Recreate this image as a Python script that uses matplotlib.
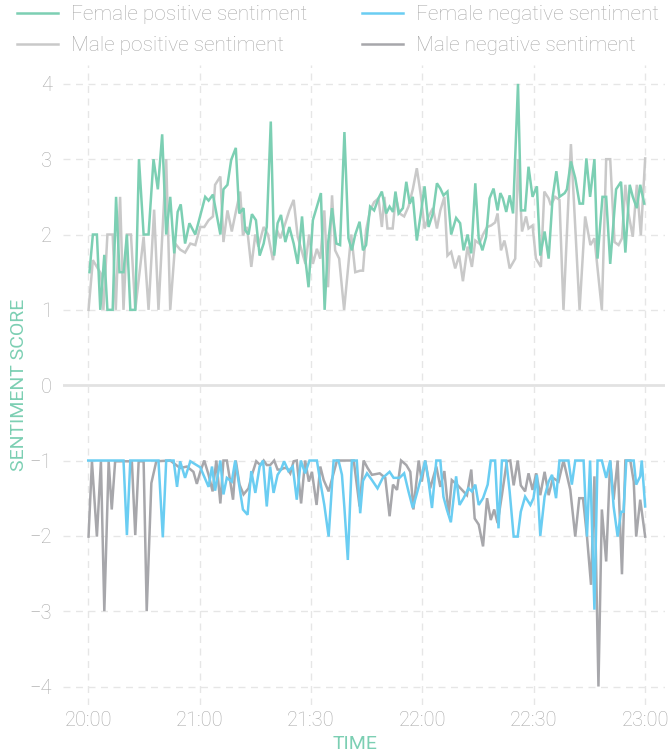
import matplotlib
matplotlib.use("Agg")
import matplotlib.pyplot as plt
from matplotlib import font_manager

# ---------------- data (minutes after 20:00, sentiment score) ----------------
female_pos = [(0.4,1.5),(1.5,2.0),(2.8,2.0),(3.9,1.0),(5.2,1.73),(6.2,1.0),(7.9,1.0),(9.0,2.5),(10.1,1.5),(11.4,1.5),
    (12.5,2.0),(13.6,1.0),(15.2,1.0),(16.4,3.0),(17.9,2.0),(19.5,2.0),(21.1,3.0),(22.5,2.6),(23.9,3.33),(25.2,2.0),
    (26.5,2.5),(27.8,1.75),(28.9,2.3),(29.9,2.4),(31.3,1.88),(32.7,2.15),(34.6,2.0),(36.2,2.25),(37.8,2.5),(38.9,2.45),
    (40.3,2.53),(42.7,2.0),(43.7,2.6),(45.0,2.66),(46.2,2.99),(47.7,3.15),(48.8,2.28),(50.2,2.35),(50.7,2.06),(51.8,2.0),
    (52.9,2.27),(54.2,2.19),(55.4,1.72),(56.7,1.88),(57.7,2.1),(59.0,3.5),(60.1,1.72),(61.2,2.15),(62.3,2.26),(63.7,1.9),
    (65.0,2.1),(66.4,1.88),(67.7,1.61),(69.1,2.24),(70.1,1.7),(71.2,1.3),(72.6,2.19),(73.9,2.37),(75.2,2.55),(76.4,1.0),
    (77.5,1.88),(78.8,2.35),(80.2,1.88),(81.4,1.86),(82.8,3.36),(84.1,1.95),(85.2,1.79),(86.3,2.0),(87.7,2.17),(88.8,1.79),
    (89.8,1.86),(91.1,2.37),(92.4,2.32),(93.8,2.48),(94.9,2.57),(96.3,2.28),(97.4,2.37),(98.5,2.3),(99.3,2.57),(100.3,2.28),
    (101.7,2.35),(102.8,2.7),(103.9,2.41),(104.9,2.5),(106.2,1.92),(107.5,2.28),(108.7,2.64),(110.0,2.1),(111.4,2.28),(112.7,2.68),
    (113.8,2.61),(114.8,2.52),(116.1,2.57),(117.3,2.0),(118.9,2.22),(120.2,2.15),(121.3,1.79),(122.6,2.0),(123.8,1.75),(125.1,2.68),
    (126.2,1.95),(127.4,1.79),(128.6,1.97),(129.7,2.48),(131.0,2.61),(132.3,2.32),(133.2,2.55),(134.0,2.48),(135.1,2.3),(136.2,2.52),
    (137.3,2.28),(138.9,4.0),(139.9,2.32),(141.2,2.32),(142.3,2.9),(143.6,2.5),(145.0,2.64),(146.1,1.72),(147.5,2.04),(148.8,1.68),
    (150.1,2.5),(151.3,2.84),(152.3,2.5),(154.0,2.55),(154.7,2.6),(156.0,2.97),(157.4,2.75),(158.8,2.41),(159.9,2.41),(161.0,3.01),
    (162.2,2.5),(163.6,3.0),(164.6,1.68),(166.2,2.5),(167.4,2.5),(168.7,1.61),(170.6,2.6),(172.2,2.7),(173.6,1.76),(175.0,2.66),
    (176.0,2.5),(177.3,2.35),(178.4,2.66),(179.7,2.41)]

male_pos = [(0.1,1.0),(1.5,1.66),(2.8,1.57),(4.1,1.48),(4.9,1.0),(6.2,2.0),(7.9,2.0),(8.9,1.0),(10.3,2.5),(11.4,1.0),
    (12.5,2.0),(13.8,2.0),(15.2,1.0),(17.9,1.97),(19.5,1.0),(21.3,2.33),(22.7,1.0),(25.2,3.0),(26.5,1.0),(28.1,1.88),
    (29.7,1.8),(31.3,1.76),(33.0,1.88),(34.6,1.86),(36.2,2.1),(37.5,2.1),(38.9,2.19),(40.3,2.24),(41.0,2.66),(42.7,2.77),
    (43.7,1.9),(45.0,2.32),(46.4,2.04),(47.8,2.32),(49.1,2.57),(50.0,1.99),(51.3,2.1),(52.7,1.57),(54.0,2.0),(55.0,1.84),
    (56.7,2.1),(58.1,2.0),(59.7,1.66),(61.0,2.06),(62.1,1.95),(63.7,2.15),(65.0,2.32),(66.4,2.46),(67.7,1.97),(69.1,1.77),
    (70.2,1.61),(71.4,2.0),(72.6,1.61),(73.9,1.81),(75.0,1.68),(76.3,2.32),(77.5,1.3),(78.8,2.52),(79.8,1.79),(81.1,1.68),
    (82.7,1.0),(85.0,2.0),(86.3,1.5),(87.9,1.52),(88.8,1.52),(89.8,2.06),(91.1,2.32),(92.4,2.43),(93.8,2.48),(94.9,2.1),
    (95.7,2.5),(96.7,2.08),(98.4,2.08),(99.4,2.5),(100.6,2.28),(102.1,2.24),(103.5,2.37),(104.9,2.6),(106.2,2.88),(107.5,2.52),
    (108.7,2.08),(110.0,2.24),(111.4,2.35),(112.7,2.08),(113.8,2.32),(115.1,2.5),(116.1,1.72),(117.3,1.77),(118.6,1.55),(119.9,1.72),
    (121.1,1.38),(122.6,1.84),(124.0,1.57),(125.1,1.92),(126.4,1.88),(127.6,2.0),(128.9,2.1),(130.2,2.12),(131.5,2.16),(132.3,2.28),
    (133.4,1.79),(134.5,1.92),(135.1,1.81),(136.2,1.55),(138.0,1.68),(138.9,3.0),(140.2,2.04),(141.5,2.24),(142.3,2.08),(143.6,2.12),
    (144.7,1.68),(146.3,1.57),(147.4,2.57),(148.8,2.48),(149.5,2.39),(150.9,2.5),(152.3,2.46),(153.6,1.0),(156.0,3.2),(158.8,1.0),
    (160.6,2.24),(162.3,1.86),(163.6,1.95),(166.0,1.0),(167.4,3.0),(168.7,3.0),(170.1,1.9),(171.4,1.86),(172.5,1.95),(173.6,2.66),
    (174.6,2.28),(176.0,1.97),(177.3,2.66),(178.6,1.99),(180.0,3.01)]

female_neg = [(0,-1),(11.4,-1),(12.5,-1.99),(13.6,-1),(22.7,-1),(24.1,-2.02),(25.2,-1),(27.6,-1),(28.7,-1.35),(29.7,-1.01),
    (31.3,-1.23),(33.0,-1.01),(36.2,-1.09),(38.9,-1.35),(40.0,-1.08),(41.0,-1.4),(42.7,-1.0),(43.7,-1.45),(44.8,-1.23),(46.4,-1.28),
    (47.5,-1.0),(48.6,-1.28),(50.0,-1.65),(51.5,-1.72),(52.7,-1.14),(54.0,-1.43),(55.4,-1.08),(56.5,-1.0),(57.7,-1.61),(58.8,-1.08),
    (59.9,-1.43),(61.2,-1.19),(62.3,-1.12),(63.3,-1.01),(64.7,-1.14),(66.1,-1.08),(67.4,-1.52),(68.7,-1.0),(70.1,-1.17),(71.5,-1.0),
    (73.9,-1.0),(75.0,-1.28),(76.3,-1.59),(77.7,-2.01),(79.3,-1.0),(80.9,-1.0),(82.0,-1.19),(82.8,-1.63),(83.9,-2.32),(85.2,-1.0),
    (86.8,-1.0),(87.9,-1.70),(88.8,-1.27),(90.1,-1.17),(91.7,-1.26),(93.5,-1.37),(95.2,-1.23),(97.4,-1.15),(98.7,-1.23),(100.6,-1.23),
    (102.1,-1.17),(103.5,-1.41),(104.9,-1.63),(106.4,-1.41),(107.8,-1.19),(108.9,-1.0),(110.0,-1.28),(111.1,-1.63),(112.5,-1.0),(113.8,-1.0),
    (114.8,-1.48),(115.9,-1.65),(117.2,-1.82),(118.9,-1.21),(120.0,-1.59),(121.3,-1.50),(122.9,-1.37),(124.0,-1.41),(125.1,-1.32),(126.2,-1.59),
    (127.6,-1.50),(129.1,-1.32),(130.1,-1.0),(131.5,-1.0),(132.6,-1.90),(133.7,-1.0),(135.1,-1.0),(136.2,-1.41),(137.5,-2.01),(138.8,-2.01),
    (139.8,-1.68),(141.2,-1.48),(142.9,-1.59),(143.9,-1.50),(145.0,-1.19),(146.1,-2.0),(147.5,-1.48),(148.8,-1.28),(149.9,-1.19),(151.2,-1.5),
    (152.3,-1.0),(155.2,-1.0),(156.3,-1.32),(157.4,-1.0),(160.1,-1.0),(161.2,-2.01),(162.2,-1.0),(163.6,-2.98),(164.6,-1.0),(166.0,-1.0),
    (167.4,-1.23),(168.7,-1.0),(169.8,-1.61),(171.1,-2.01),(172.2,-1.68),(173.0,-1.68),(173.9,-1.0),(176.3,-1.0),(177.1,-1.32),(178.4,-1.21),
    (178.9,-1.0),(180.0,-1.61)]

male_neg = [(0.1,-2.01),(1.2,-1.01),(2.8,-2.01),(4.1,-1.01),(5.2,-3.0),(6.6,-1.01),(7.6,-1.65),(8.7,-1.01),(14.1,-1.01),(15.2,-1.99),
    (16.3,-1.01),(17.9,-1.01),(18.9,-3.0),(20.4,-1.3),(22.0,-1.01),(26.5,-1.0),(29.7,-1.1),(31.9,-1.08),(34.0,-1.15),(35.1,-1.31),
    (36.2,-1.15),(37.5,-1.0),(38.9,-1.19),(40.2,-1.41),(41.4,-1.0),(42.7,-1.57),(43.7,-1.0),(44.8,-1.0),(45.9,-1.28),(46.8,-1.52),
    (47.7,-1.0),(48.9,-1.32),(50.2,-1.45),(51.8,-1.37),(52.9,-1.19),(54.3,-1.01),(55.6,-1.06),(56.7,-1.0),(57.7,-1.06),(58.8,-1.06),
    (60.1,-1.0),(61.2,-1.12),(62.3,-1.12),(63.3,-1.10),(64.2,-1.10),(65.3,-1.17),(66.4,-1.01),(67.4,-1.0),(68.8,-1.57),(70.1,-1.0),
    (71.3,-1.28),(72.3,-1.15),(73.8,-1.59),(75.0,-1.08),(76.1,-1.26),(77.7,-1.41),(79.3,-1.17),(80.4,-1.0),(85.8,-1.0),(87.7,-1.61),
    (89.0,-1.0),(90.3,-1.10),(91.7,-1.19),(94.2,-1.17),(96.0,-1.23),(97.4,-1.74),(98.5,-1.32),(99.8,-1.39),(101.1,-1.0),(102.8,-1.06),
    (104.1,-1.15),(105.1,-1.65),(106.8,-1.0),(107.8,-1.28),(108.9,-1.0),(110.5,-1.37),(112.5,-1.08),(113.8,-1.35),(115.1,-1.14),(116.5,-1.72),
    (117.5,-1.26),(119.2,-1.32),(120.8,-1.39),(122.4,-1.46),(123.8,-1.12),(124.9,-1.77),(126.2,-1.85),(127.6,-2.14),(128.9,-1.50),(130.1,-1.79),
    (131.2,-1.65),(132.3,-1.83),(133.7,-1.46),(135.3,-1.01),(136.4,-1.0),(137.5,-1.33),(138.8,-1.0),(139.8,-1.33),(141.2,-1.41),(142.3,-1.17),
    (143.6,-1.39),(144.8,-1.17),(146.1,-1.46),(147.5,-1.15),(148.8,-1.46),(150.2,-1.23),(152.0,-1.28),(153.6,-1.0),(155.8,-1.39),(157.4,-2.01),
    (158.7,-1.50),(159.9,-1.50),(161.2,-2.01),(162.5,-2.65),(163.6,-1.21),(164.9,-4.0),(166.0,-1.65),(167.4,-2.34),(168.7,-1.0),(169.8,-1.52),
    (171.1,-1.0),(172.5,-2.51),(173.6,-1.0),(175.2,-1.0),(176.3,-1.28),(177.1,-2.01),(178.4,-1.52),(180.0,-2.01)]

x_tick_pos = [0, 36, 72, 108, 144, 180]
x_tick_labels = ["20:00", "21:00", "21:30", "22:00", "22:30", "23:00"]
y_ticks = [-4, -3, -2, -1, 0, 1, 2, 3, 4]

labels = ["Female positive sentiment", "Male positive sentiment",
          "Female negative sentiment", "Male negative sentiment"]

# ---------------- style ----------------
avail = {f.name for f in font_manager.fontManager.ttflist}
fam = "Roboto" if "Roboto" in avail else "DejaVu Sans"
plt.rcParams["font.family"] = [fam, "DejaVu Sans"]
plt.rcParams["font.weight"] = "light"

C_FP = "#7ccfb3"
C_MP = "#c9c9c9"
C_FN = "#6acdf2"
C_MN = "#a7a7ab"
TXT = "#aaaaaa"
GRID = "#e6e6e6"

fig = plt.figure(figsize=(6.72, 7.56), dpi=100)
ax = fig.add_axes([0.094, 0.067, 0.896, 0.847])

def unzip(p):
    return [a for a, b in p], [b for a, b in p]

lw = 1.8
t, v = unzip(male_pos); l_mp, = ax.plot(t, v, color=C_MP, lw=lw, solid_joinstyle="miter", zorder=3)
t, v = unzip(male_neg); l_mn, = ax.plot(t, v, color=C_MN, lw=lw, solid_joinstyle="miter", zorder=3)
t, v = unzip(female_pos); l_fp, = ax.plot(t, v, color=C_FP, lw=lw, solid_joinstyle="miter", zorder=4)
t, v = unzip(female_neg); l_fn, = ax.plot(t, v, color=C_FN, lw=lw, solid_joinstyle="miter", zorder=4)

ax.set_xlim(-8.1, 186.5)
ax.set_ylim(-4.25, 4.25)

for y in y_ticks:
    if y == 0:
        ax.axhline(0, color="#e2e2e2", lw=2.0, zorder=1)
    else:
        ax.axhline(y, color=GRID, lw=1.0, ls=(0, (5, 4)), zorder=1)
for x in x_tick_pos:
    ax.axvline(x, color=GRID, lw=1.0, ls=(0, (5, 4)), zorder=1)

ax.set_xticks(x_tick_pos)
ax.set_xticklabels(x_tick_labels)
ax.set_yticks(y_ticks)
ax.tick_params(axis="both", length=0, labelsize=14.5, labelcolor=TXT)
ax.tick_params(axis="x", pad=4)
ax.tick_params(axis="y", pad=8)
for s in ax.spines.values():
    s.set_visible(False)

ax.set_ylabel("SENTIMENT SCORE", color=C_FP, fontsize=14)
ax.yaxis.set_label_coords(-0.073, 0.5)
ax.yaxis.label.set_va("center")
ax.set_xlabel("TIME", color=C_FP, fontsize=14)
ax.xaxis.set_label_coords(0.485, -0.061)
ax.xaxis.label.set_va("center")

leg = fig.legend([l_fp, l_mp, l_fn, l_mn], labels, ncol=2, frameon=False,
                 loc="upper left", bbox_to_anchor=(0.025, 0.993),
                 borderaxespad=0, borderpad=0,
                 fontsize=15, handlelength=2.0, handletextpad=0.62,
                 columnspacing=2.6, labelspacing=0.56)
for txt in leg.get_texts():
    txt.set_color(TXT)

fig.savefig("out.png", dpi=100)
